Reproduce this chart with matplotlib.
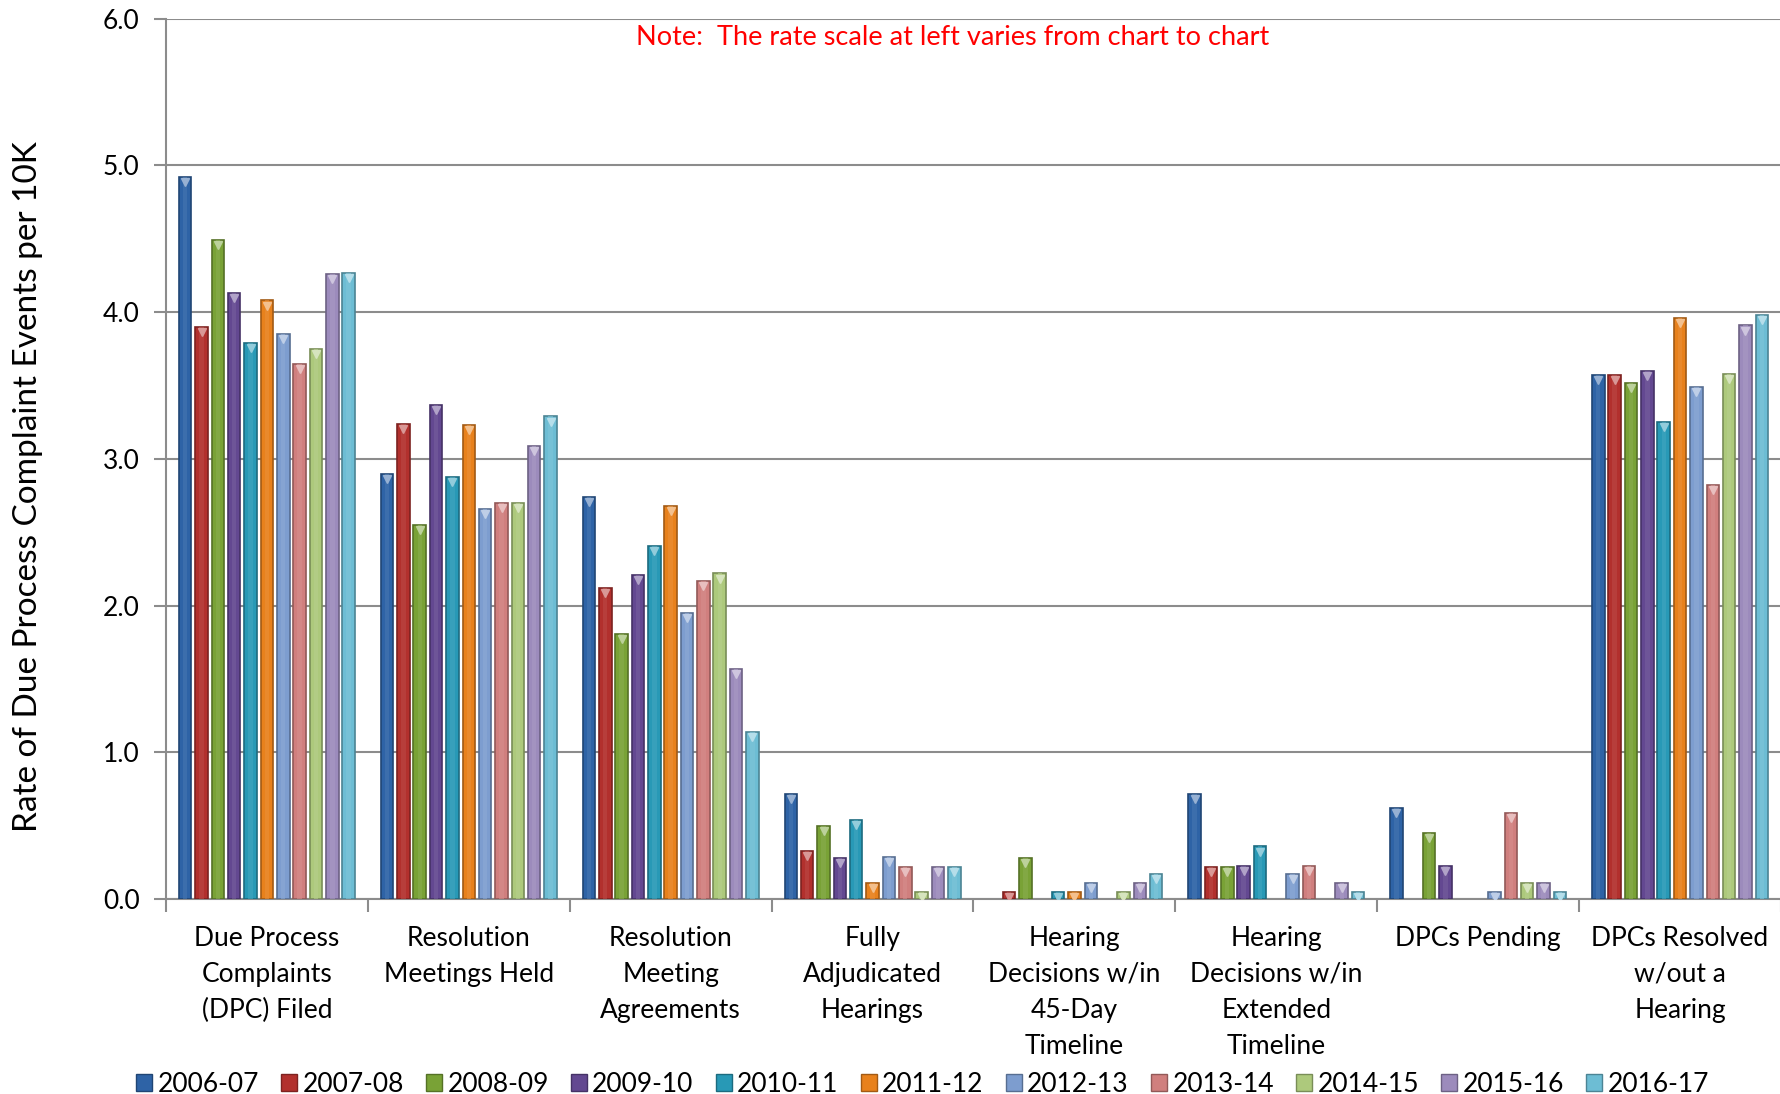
import numpy as np
import matplotlib
matplotlib.use("Agg")
import matplotlib.pyplot as plt
from matplotlib.patches import Patch

plt.rcParams['font.family'] = ['Lato', 'DejaVu Sans']

categories = [
    "Due Process\nComplaints\n(DPC) Filed",
    "Resolution\nMeetings Held",
    "Resolution\nMeeting\nAgreements",
    "Fully\nAdjudicated\nHearings",
    "Hearing\nDecisions w/in\n45-Day\nTimeline",
    "Hearing\nDecisions w/in\nExtended\nTimeline",
    "DPCs Pending",
    "DPCs Resolved\nw/out a\nHearing",
]
years = ["2006-07", "2007-08", "2008-09", "2009-10", "2010-11", "2011-12",
         "2012-13", "2013-14", "2014-15", "2015-16", "2016-17"]

v2006_07 = [4.92, 2.90, 2.74, 0.72, 0.00, 0.72, 0.62, 3.57]
v2007_08 = [3.90, 3.24, 2.12, 0.33, 0.05, 0.22, 0.00, 3.57]
v2008_09 = [4.49, 2.55, 1.81, 0.50, 0.28, 0.22, 0.45, 3.52]
v2009_10 = [4.13, 3.37, 2.21, 0.28, 0.00, 0.23, 0.23, 3.60]
v2010_11 = [3.79, 2.88, 2.41, 0.54, 0.05, 0.36, 0.00, 3.25]
v2011_12 = [4.08, 3.23, 2.68, 0.11, 0.05, 0.00, 0.00, 3.96]
v2012_13 = [3.85, 2.66, 1.95, 0.29, 0.11, 0.17, 0.05, 3.49]
v2013_14 = [3.65, 2.70, 2.17, 0.22, 0.00, 0.23, 0.59, 2.82]
v2014_15 = [3.75, 2.70, 2.22, 0.05, 0.05, 0.00, 0.11, 3.58]
v2015_16 = [4.26, 3.09, 1.57, 0.22, 0.11, 0.11, 0.11, 3.91]
v2016_17 = [4.27, 3.29, 1.14, 0.22, 0.17, 0.05, 0.05, 3.98]

series = [v2006_07, v2007_08, v2008_09, v2009_10, v2010_11, v2011_12,
          v2012_13, v2013_14, v2014_15, v2015_16, v2016_17]

colors = ["#2E63A6", "#B2302D", "#79A236", "#634891", "#2899B6", "#E8811C",
          "#7D9DCF", "#D07F7E", "#ADC97C", "#9C8BBC", "#6DBDD4"]


def shade(c, f):
    r, g, b = matplotlib.colors.to_rgb(c)
    if f < 1:
        return (r * f, g * f, b * f)
    return (r + (1 - r) * (f - 1), g + (1 - g) * (f - 1), b + (1 - b) * (f - 1))


fig = plt.figure(figsize=(17.81, 10.94), dpi=100)
ax = fig.add_axes([0.0932, 0.178, 0.9068, 0.805])

n = len(years)
x = np.arange(len(categories))
step = 0.081
width = 0.062
for i, (vals, c) in enumerate(zip(series, colors)):
    pos = x + (i - (n - 1) / 2) * step
    vals = np.array(vals)
    mask = vals > 0
    ax.bar(pos[mask], vals[mask], width=width, color=c,
           edgecolor=shade(c, 0.7), linewidth=1.2, zorder=3)
    ax.bar(pos[mask], vals[mask], width=width * 0.35, color=shade(c, 1.12),
           linewidth=0, zorder=3.5, alpha=0.6)
    ax.plot(pos[mask], vals[mask] - 0.035, linestyle='none', marker='v',
            markersize=6, color=shade(c, 1.5), zorder=4)

ax.set_xlim(-0.5, len(categories) - 0.5)
ax.set_ylim(0, 6.0)
ax.set_yticks(np.arange(0, 6.01, 1.0))
ax.set_yticklabels([f"{t:.1f}" for t in np.arange(0, 6.01, 1.0)], fontsize=19)
ax.yaxis.grid(True, color="#8c8c8c", linewidth=1.5, zorder=0)
ax.set_axisbelow(True)

ax.set_xticks(x)
ax.set_xticklabels(categories, fontsize=19, linespacing=1.55)
ax.set_xticks(np.arange(-0.5, len(categories), 1.0), minor=True)
ax.tick_params(axis='x', which='major', length=0, pad=19)
ax.tick_params(axis='x', which='minor', length=9, width=1.5, color="#8c8c8c")
ax.tick_params(axis='y', length=9, width=1.5, color="#8c8c8c", pad=10)

for s in ['top', 'right']:
    ax.spines[s].set_visible(False)
for s in ['left', 'bottom']:
    ax.spines[s].set_color("#8c8c8c")
    ax.spines[s].set_linewidth(1.5)

ax.text(0.487, 0.978, "Note:  The rate scale at left varies from chart to chart",
        transform=ax.transAxes, ha='center', va='center', color='red', fontsize=19.5)

fig.text(0.016, 0.555, "Rate of Due Process Complaint Events per 10K", rotation=90,
         ha='center', va='center', fontsize=24)

handles = [Patch(facecolor=c, edgecolor=shade(c, 0.7)) for c in colors]
fig.legend(handles, years, loc='center', bbox_to_anchor=(0.518, 0.009), ncol=11,
           frameon=False, fontsize=19, handlelength=0.6, handleheight=0.6,
           handletextpad=0.2, columnspacing=0.85)

fig.savefig("out.png", dpi=100)
